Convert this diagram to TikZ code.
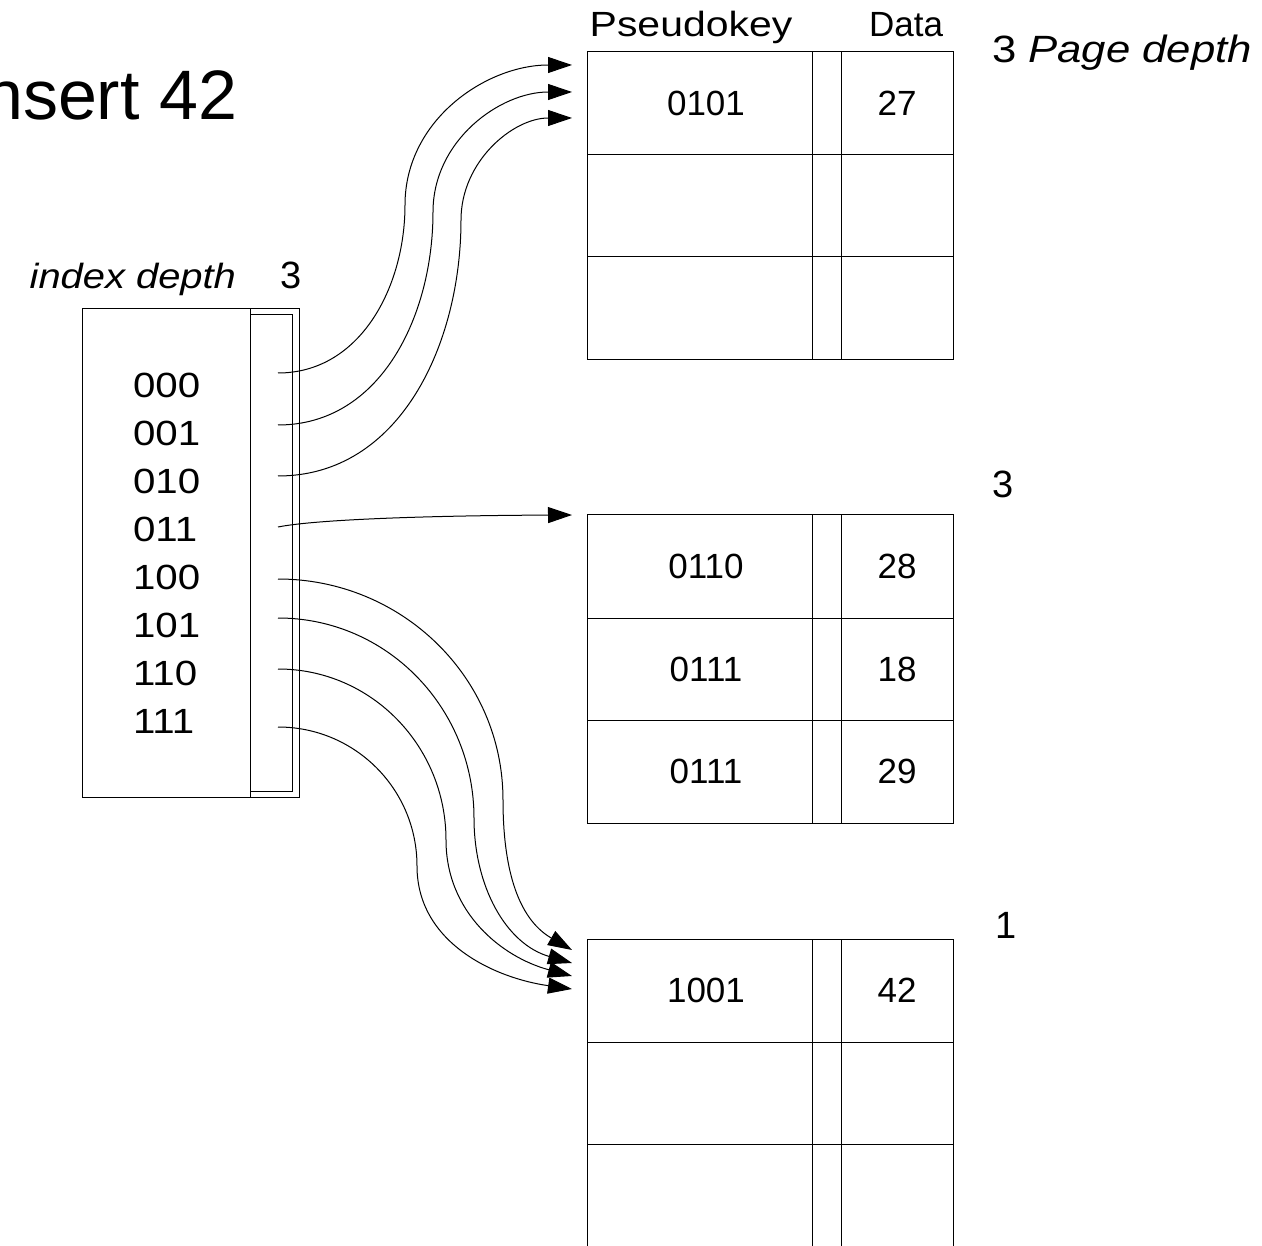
\documentclass[tikz,border=0pt]{standalone}
\usepackage{fontspec}
\setmainfont{Liberation Sans}
\usetikzlibrary{arrows.meta}

\begin{document}
\begin{tikzpicture}[x=1pt,y=1pt,
  rule/.style={line width=1pt},
  lbl/.style={font=\fontsize{35}{40}\selectfont, inner sep=0pt, outer sep=0pt},
  big/.style={font=\fontsize{38}{44}\selectfont, inner sep=0pt, outer sep=0pt},
  ttl/.style={font=\fontsize{70}{80}\selectfont, inner sep=0pt, outer sep=0pt},
  ptr/.style={line width=1pt, -{Triangle[length=24pt,width=16pt]}}]

\useasboundingbox (0,0) rectangle (1262,-1246);
\clip (0,0) rectangle (1262,-1246);

% title
\node[ttl, anchor=base east] (title) at (237,-120) {Insert 42};

% ---------- directory ----------
\draw[rule] (82,-309) rectangle (299,-797);
\draw[rule] (250,-309) -- (250,-797);
\draw[rule] (250,-315) rectangle (292,-791);
\node[lbl, anchor=base east] (idxlbl) at (236,-289) {\scalebox{1.14}[1]{\itshape index depth}};
\node[big, anchor=base] (idxd) at (291,-289) {3};

\foreach \k/\y in {000/398,001/446,010/494,011/541,100/590,101/637,110/685,111/733}
  \node[lbl, anchor=base west] (e\k) at (133,-\y) {\scalebox{1.15}[1]{\k}};

% pointer origins inside the slot column
\coordinate (s000) at (278,-373);
\coordinate (s001) at (278,-425);
\coordinate (s010) at (278,-476);
\coordinate (s011) at (278,-527);
\coordinate (s100) at (278,-579);
\coordinate (s101) at (278,-618);
\coordinate (s110) at (278,-669);
\coordinate (s111) at (278,-727);

% ---------- page A ----------
\draw[rule] (587,-52) rectangle (953,-360);
\draw[rule] (587,-155) -- (953,-155) (587,-257) -- (953,-257)
            (812,-52) -- (812,-360) (841,-52) -- (841,-360);
\node[lbl, anchor=base] (hkey) at (691,-37) {\scalebox{1.17}[1]{Pseudokey}};
\node[lbl, anchor=base] (hdata) at (906,-37) {Data};
\node[big, anchor=base west] (depA) at (992,-63) {\scalebox{1.15}[1]{3 \itshape Page depth}};
\node[lbl] (kA1) at (706,-103.5) {0101};
\node[lbl] (dA1) at (897,-103.5) {27};

% ---------- page B ----------
\draw[rule] (587,-515) rectangle (953,-823);
\draw[rule] (587,-618) -- (953,-618) (587,-720) -- (953,-720)
            (812,-515) -- (812,-823) (841,-515) -- (841,-823);
\node[big, anchor=base] (depB) at (1003,-498) {3};
\node[lbl] (kB1) at (706,-566.5) {0110};
\node[lbl] (dB1) at (897,-566.5) {28};
\node[lbl] (kB2) at (706,-669) {0111};
\node[lbl] (dB2) at (897,-669) {18};
\node[lbl] (kB3) at (706,-771.5) {0111};
\node[lbl] (dB3) at (897,-771.5) {29};

% ---------- page C (continues below) ----------
\draw[rule] (587,-1260) -- (587,-939) -- (953,-939) -- (953,-1260);
\draw[rule] (587,-1042) -- (953,-1042) (587,-1144) -- (953,-1144)
            (812,-939) -- (812,-1260) (841,-939) -- (841,-1260);
\node[big, anchor=base] (depC) at (1006,-938) {1};
\node[lbl] (kC1) at (706,-990.5) {1001};
\node[lbl] (dC1) at (897,-990.5) {42};

% pointer targets
\coordinate (tA1) at (572,-65);
\coordinate (tA2) at (572,-92);
\coordinate (tA3) at (572,-118);
\coordinate (tB)  at (572,-515);
\coordinate (tC1) at (572,-950);
\coordinate (tC2) at (572,-963);
\coordinate (tC3) at (572,-976);
\coordinate (tC4) at (572,-989);

% ---------- pointers ----------
\draw[ptr] (s000) to[out=0,in=-90] (405,-205) to[out=90,in=180] (tA1);
\draw[ptr] (s001) to[out=0,in=-90] (433,-212) to[out=90,in=180] (tA2);
\draw[ptr] (s010) to[out=0,in=-90] (461,-220) to[out=90,in=180] (tA3);
\draw[ptr] (s011) .. controls (318,-519) and (440,-515.5) .. (tB);
\draw[ptr] (s100) to[out=0,in=90] (503,-800) to[out=-90,in=150] (tC1);
\draw[ptr] (s101) to[out=0,in=90] (474,-818) to[out=-90,in=164] (tC2);
\draw[ptr] (s110) to[out=0,in=90] (446,-840) to[out=-90,in=165] (tC3);
\draw[ptr] (s111) to[out=0,in=90] (417,-866) to[out=-90,in=172] (tC4);

\end{tikzpicture}
\end{document}
